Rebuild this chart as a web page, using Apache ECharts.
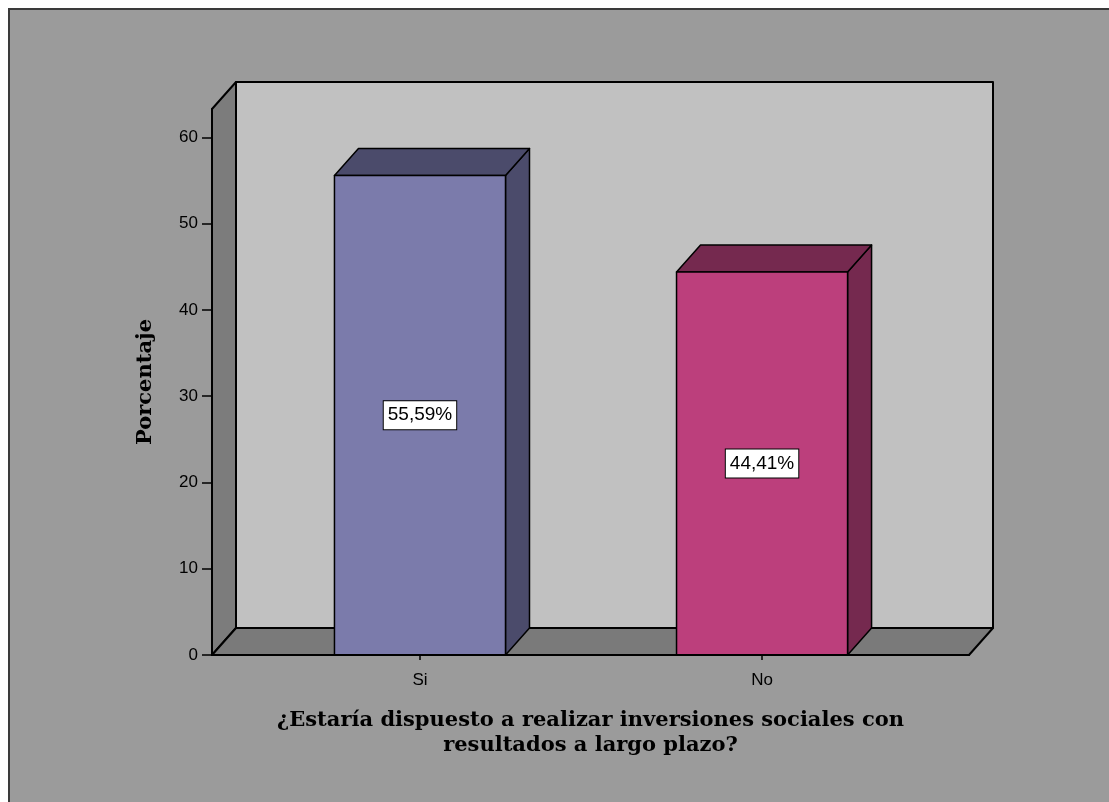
<!DOCTYPE html>
<html>
<head>
<meta charset="utf-8">
<script src="https://cdn.jsdelivr.net/npm/echarts@6/dist/echarts.min.js"></script>
<style>
  html, body { margin: 0; padding: 0; background: #ffffff; }
  #frame { position: absolute; left: 8px; top: 8px; width: 1101px; height: 794px; box-sizing: border-box;
           background: #9b9b9b; border-left: 2px solid #3a3a3a; border-top: 2px solid #3a3a3a; }
  #chart { position: absolute; left: 0; top: 0; width: 1109px; height: 802px; }
</style>
</head>
<body>
<div id="frame"></div>
<div id="chart"></div>
<script>
// ---- data ----
const categories = ['Si', 'No'];
const percentages = [55.59, 44.41];
const yTicks = [0, 10, 20, 30, 40, 50, 60];
const xTitle = '¿Estaría dispuesto a realizar inversiones sociales con\nresultados a largo plazo?';
const yTitle = 'Porcentaje';

// ---- styles ----
const SANS = '"Liberation Sans", Arial, sans-serif';
const SERIF = '"DejaVu Serif", "Liberation Serif", serif';
const DX = 24, DY = -27;          // 3D depth offset in px
const BAR_W = 0.5;                // bar width in category units
const X_MIN = -0.608, X_MAX = 1.605, Y_MAX = 63.3;
const frontColors = ['#7b7bab', '#bc3f7c'];
const darkColors = ['#4b4b6b', '#75294f'];

const chart = echarts.init(document.getElementById('chart'), null, { renderer: 'canvas' });

const barData = percentages.map((v, i) => [i, v]);
const tickIdx = categories.map((c, i) => i);

function renderWalls(params, api) {
  const fTop = api.coord([X_MIN, Y_MAX]);
  const fBot = api.coord([X_MIN, 0]);
  const fRight = api.coord([X_MAX, 0]);
  const st = { stroke: '#000', lineWidth: 2, lineJoin: 'round' };
  return {
    type: 'group',
    children: [
      { type: 'rect', shape: { x: fTop[0] + DX, y: fTop[1] + DY, width: fRight[0] - fBot[0], height: fBot[1] - fTop[1] },
        style: Object.assign({ fill: '#c1c1c1' }, st) },
      { type: 'polygon', shape: { points: [[fTop[0], fTop[1]], [fTop[0] + DX, fTop[1] + DY], [fBot[0] + DX, fBot[1] + DY], [fBot[0], fBot[1]]] },
        style: Object.assign({ fill: '#7c7c7c' }, st) },
      { type: 'polygon', shape: { points: [[fBot[0], fBot[1]], [fBot[0] + DX, fBot[1] + DY], [fRight[0] + DX, fRight[1] + DY], [fRight[0], fRight[1]]] },
        style: Object.assign({ fill: '#7a7a7a' }, st) }
    ]
  };
}

function renderBar(params, api) {
  const i = api.value(0), v = api.value(1);
  const tl = api.coord([i - BAR_W / 2, v]);
  const br = api.coord([i + BAR_W / 2, 0]);
  const mid = api.coord([i, v / 2]);
  const x0 = tl[0], x1 = br[0], yt = tl[1], yb = br[1];
  const st = { stroke: '#000', lineWidth: 1.5, lineJoin: 'round' };
  const label = v.toFixed(2).replace('.', ',') + '%';
  return {
    type: 'group',
    children: [
      { type: 'polygon', shape: { points: [[x1, yt], [x1 + DX, yt + DY], [x1 + DX, yb + DY], [x1, yb]] },
        style: Object.assign({ fill: darkColors[i] }, st) },
      { type: 'polygon', shape: { points: [[x0, yt], [x0 + DX, yt + DY], [x1 + DX, yt + DY], [x1, yt]] },
        style: Object.assign({ fill: darkColors[i] }, st) },
      { type: 'rect', shape: { x: x0, y: yt, width: x1 - x0, height: yb - yt },
        style: Object.assign({ fill: frontColors[i] }, st) },
      { type: 'text', z2: 10,
        style: { text: label, x: mid[0], y: mid[1], align: 'center', verticalAlign: 'middle',
                 fill: '#000', fontSize: 19, fontFamily: SANS,
                 backgroundColor: '#ffffff', borderColor: '#000', borderWidth: 1, padding: [5, 4, 4, 4] } }
    ]
  };
}

const option = {
  backgroundColor: 'transparent',
  animation: false,
  grid: { left: 212, top: 109, width: 757, height: 546, containLabel: false, outerBoundsMode: 'none' },
  xAxis: {
    type: 'value', min: X_MIN, max: X_MAX, z: 10,
    axisLine: { show: true, onZero: false, lineStyle: { color: '#000', width: 2 } },
    axisTick: { show: true, length: 5, customValues: tickIdx, lineStyle: { color: '#000', width: 1.5 } },
    axisLabel: { customValues: tickIdx, formatter: v => categories[Math.round(v)], color: '#000',
                 fontFamily: SANS, fontSize: 17, margin: 17 },
    splitLine: { show: false },
    name: xTitle, nameLocation: 'middle', nameGap: 53,
    nameTextStyle: { color: '#000', fontFamily: SERIF, fontWeight: 'bold', fontSize: 21, lineHeight: 25, align: 'center' }
  },
  yAxis: {
    type: 'value', min: 0, max: Y_MAX, z: 10,
    axisLine: { show: true, onZero: false, lineStyle: { color: '#000', width: 2 } },
    axisTick: { show: true, length: 10, customValues: yTicks, lineStyle: { color: '#000', width: 1.5 } },
    axisLabel: { customValues: yTicks, color: '#000', fontFamily: SANS, fontSize: 17, margin: 14 },
    splitLine: { show: false },
    name: yTitle, nameLocation: 'middle', nameGap: 56,
    nameTextStyle: { color: '#000', fontFamily: SERIF, fontWeight: 'bold', fontSize: 21 }
  },
  series: [
    { type: 'custom', name: 'walls', z: 1, clip: false, silent: true, data: [[0, 0]], renderItem: renderWalls },
    { type: 'custom', name: 'Porcentaje', z: 3, clip: false, data: barData, encode: { x: 0, y: 1 }, renderItem: renderBar }
  ]
};
chart.setOption(option);
</script>
</body>
</html>
